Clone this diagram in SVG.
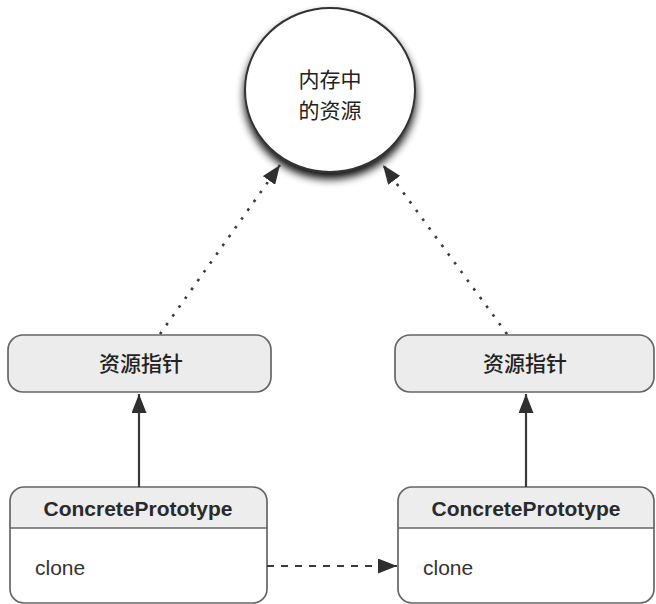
<svg xmlns="http://www.w3.org/2000/svg" width="656" height="604" viewBox="0 0 656 604">
  <defs>
    <style>
      .cjk { font-family: "Noto Sans CJK SC", "Noto Sans", sans-serif; font-size: 21px; font-weight: 500; fill: #222; text-anchor: middle; }
      .cjk-light { font-weight: 400; }
      .title { font-family: "Liberation Sans", Arial, sans-serif; font-size: 21px; font-weight: bold; fill: #2a2a2a; text-anchor: middle; }
      .op { font-family: "Liberation Sans", Arial, sans-serif; font-size: 21px; fill: #333; }
      .pointer { fill: #ececec; stroke: #666; stroke-width: 1.7; }
      .cls { fill: none; stroke: #666; stroke-width: 1.7; }
      .cls-head { fill: #ededed; }
      .divider { stroke: #666; stroke-width: 1.5; }
      .dotted { stroke: #3a3a3a; stroke-width: 2.6; fill: none; stroke-dasharray: 2.6 8.2; }
      .solid { stroke: #3a3a3a; stroke-width: 2.2; fill: none; }
      .dashed { stroke: #3a3a3a; stroke-width: 2.2; fill: none; stroke-dasharray: 7 7; }
    </style>
    <marker id="arrow" viewBox="0 0 19 15" refX="19" refY="7.5" markerWidth="19" markerHeight="15" markerUnits="userSpaceOnUse" orient="auto">
      <path d="M0,0 L19,7.5 L0,15 Z" fill="#2f2f2f"/>
    </marker>
    <filter id="shadow" x="-30%" y="-30%" width="160%" height="170%">
      <feGaussianBlur in="SourceAlpha" stdDeviation="4.5"/>
      <feOffset dx="0" dy="6"/>
      <feComponentTransfer>
        <feFuncA type="linear" slope="0.95"/>
      </feComponentTransfer>
      <feMerge>
        <feMergeNode/>
        <feMergeNode in="SourceGraphic"/>
      </feMerge>
    </filter>
    <clipPath id="clipLeft">
      <rect x="10" y="487" width="257" height="116" rx="14"/>
    </clipPath>
    <clipPath id="clipRight">
      <rect x="398" y="487" width="256" height="116" rx="14"/>
    </clipPath>
  </defs>

  <rect width="656" height="604" fill="#ffffff"/>

  <!-- shared resource in memory -->
  <g id="memory-resource">
    <ellipse cx="330" cy="90" rx="85" ry="82" fill="#ffffff" stroke="#333" stroke-width="2" filter="url(#shadow)"/>
    <text class="cjk cjk-light" x="330" y="87">内存中</text>
    <text class="cjk cjk-light" x="330" y="118">的资源</text>
  </g>

  <!-- resource pointers -->
  <g id="pointer-left">
    <rect class="pointer" x="8" y="335" width="263" height="57" rx="15"/>
    <text class="cjk" x="141" y="371">资源指针</text>
  </g>
  <g id="pointer-right">
    <rect class="pointer" x="395" y="335" width="259" height="57" rx="15"/>
    <text class="cjk" x="525" y="371">资源指针</text>
  </g>

  <!-- prototype classes -->
  <g id="prototype-left">
    <g clip-path="url(#clipLeft)">
      <rect class="cls-head" x="10" y="487" width="257" height="41"/>
    </g>
    <rect class="cls" x="10" y="487" width="257" height="116" rx="14"/>
    <line class="divider" x1="10" y1="528" x2="267" y2="528"/>
    <text class="title" x="138" y="516">ConcretePrototype</text>
    <text class="op" x="35" y="575">clone</text>
  </g>
  <g id="prototype-right">
    <g clip-path="url(#clipRight)">
      <rect class="cls-head" x="398" y="487" width="256" height="41"/>
    </g>
    <rect class="cls" x="398" y="487" width="256" height="116" rx="14"/>
    <line class="divider" x1="398" y1="528" x2="654" y2="528"/>
    <text class="title" x="526" y="516">ConcretePrototype</text>
    <text class="op" x="423" y="575">clone</text>
  </g>

  <!-- connectors -->
  <g id="connectors">
    <line class="dotted" x1="160" y1="334" x2="280" y2="165" marker-end="url(#arrow)"/>
    <line class="dotted" x1="507" y1="334" x2="383" y2="165" marker-end="url(#arrow)"/>
    <line class="solid" x1="139" y1="487" x2="139" y2="394" marker-end="url(#arrow)"/>
    <line class="solid" x1="526" y1="487" x2="526" y2="394" marker-end="url(#arrow)"/>
    <line class="dashed" x1="267" y1="566" x2="397" y2="566" marker-end="url(#arrow)"/>
  </g>
</svg>
